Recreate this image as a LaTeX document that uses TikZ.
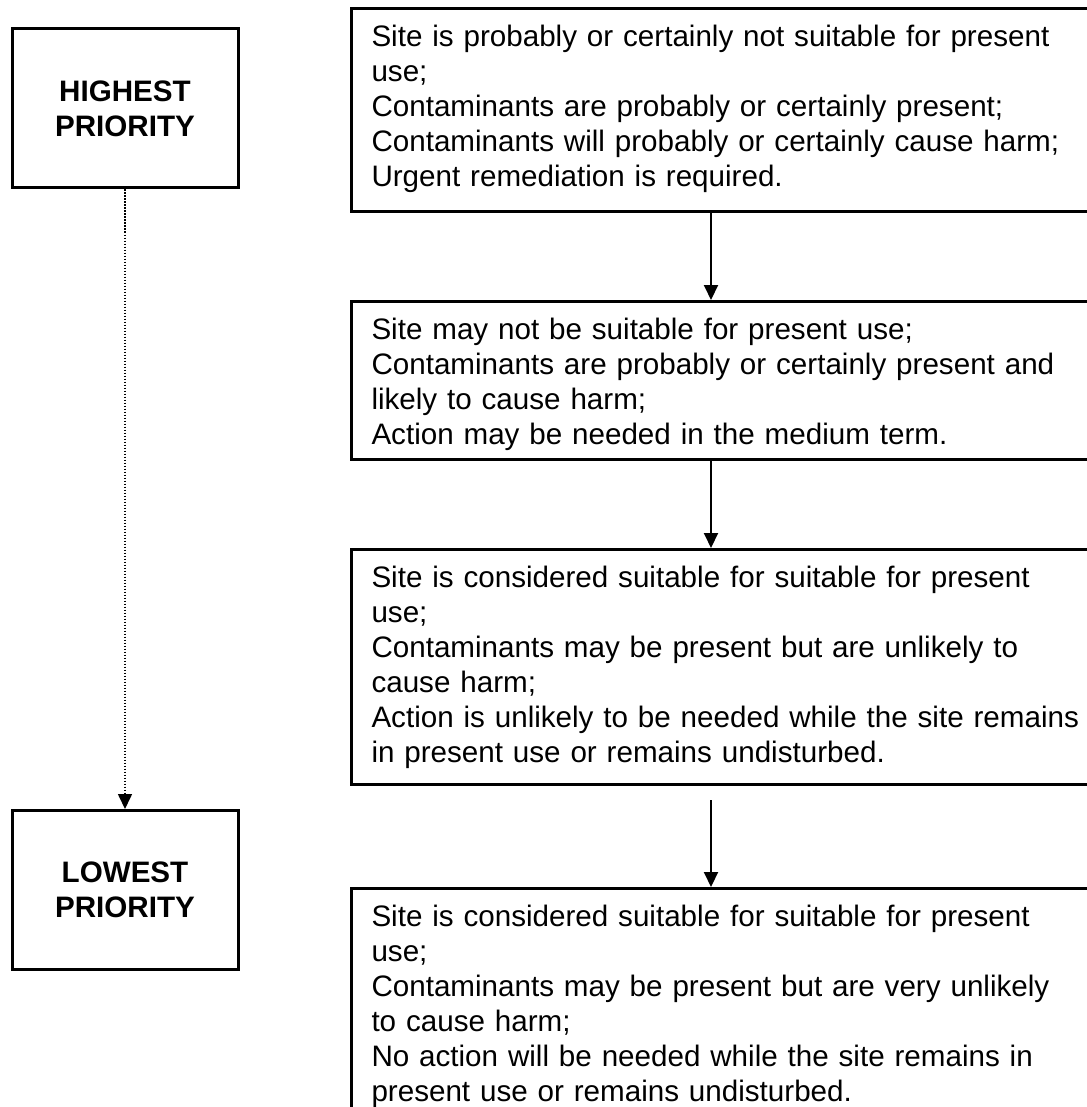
\documentclass[tikz,border=0pt]{standalone}
\usepackage{fontspec}
\setmainfont{Liberation Sans}
\usetikzlibrary{arrows.meta}
\begin{document}
\begin{tikzpicture}[x=0.5pt,y=-0.5pt,
  every node/.style={font=\fontsize{14.8pt}{17.5pt}\selectfont},
  rbox/.style={draw, line width=1.5pt, anchor=north west, inner xsep=10pt,
    inner ysep=6.75pt, text width=420pt, align=left,
    text height=12.25pt, text depth=#1},
  pbox/.style={draw, line width=1.5pt, minimum width=113pt,
    minimum height=79.5pt, align=center, inner sep=0pt,
    font=\fontsize{14.8pt}{17.5pt}\selectfont\bfseries},
  flow/.style={line width=1pt, -{Triangle[width=7pt,length=7.5pt]}},
  trend/.style={line width=0.8pt, dash pattern=on 0.75pt off 0.75pt,
    -{Triangle[width=7pt,length=7.5pt]}}
]
\useasboundingbox (0,0) rectangle (1086,1107);

% priority scale on the left
\node[pbox] (high) at (125,108.5) {HIGHEST\\PRIORITY};
\node[pbox] (low)  at (125,890) {LOWEST\\PRIORITY};
\draw[trend] (high.south) -- (low.north);

% site categories
\node[rbox=75.75pt] (c1) at (350,7)
  {Site is probably or certainly not suitable for present\\
   use;\\
   Contaminants are probably or certainly present;\\
   Contaminants will probably or certainly cause harm;\\
   Urgent remediation is required.};
\node[rbox=53.25pt] (c2) at (350,300)
  {Site may not be suitable for present use;\\
   Contaminants are probably or certainly present and\\
   likely to cause harm;\\
   Action may be needed in the medium term.};
\node[rbox=91.75pt] (c3) at (350,548)
  {Site is considered suitable for suitable for present\\
   use;\\
   Contaminants may be present but are unlikely to\\
   cause harm;\\
   Action is unlikely to be needed while the site remains\\
   in present use or remains undisturbed.};
\node[rbox=91.75pt] (c4) at (350,887)
  {Site is considered suitable for suitable for present\\
   use;\\
   Contaminants may be present but are very unlikely\\
   to cause harm;\\
   No action will be needed while the site remains in\\
   present use or remains undisturbed.};

% links between categories
\coordinate (ax) at (711,0);
\draw[flow] (c1.south -| ax) -- (c2.north -| ax);
\draw[flow] (c2.south -| ax) -- (c3.north -| ax);
\draw[flow, shorten <=7pt] (c3.south -| ax) -- (c4.north -| ax);
\end{tikzpicture}
\end{document}
